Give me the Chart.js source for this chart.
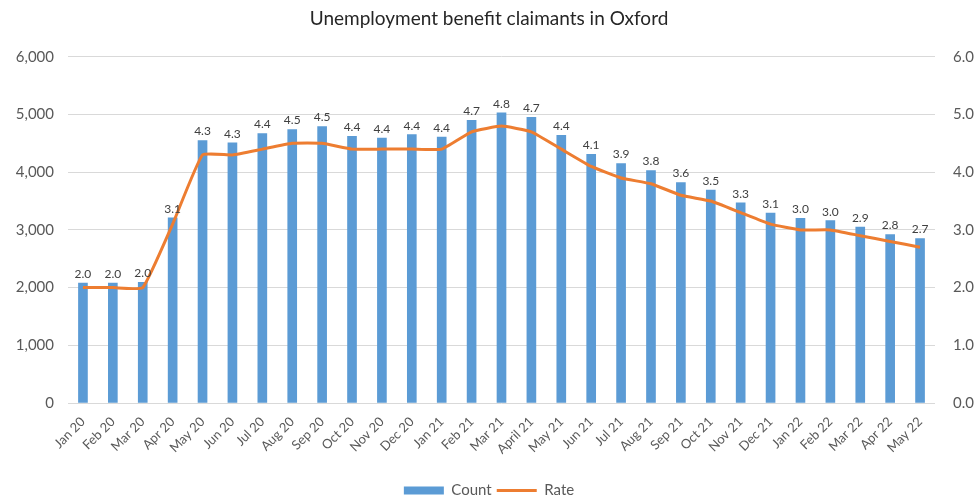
<!DOCTYPE html>
<html>
<head>
<meta charset="utf-8">
<script src="https://cdn.jsdelivr.net/npm/chart.js@4"></script>
<style>
  html, body { margin: 0; padding: 0; background: #fff; }
  #wrap { width: 978px; height: 502px; }
</style>
</head>
<body>
<div id="wrap"><canvas id="chart" width="978" height="502"></canvas></div>
<script>
const months = [
  "Jan 20", "Feb 20", "Mar 20", "Apr 20", "May 20", "Jun 20", "Jul 20", "Aug 20",
  "Sep 20", "Oct 20", "Nov 20", "Dec 20", "Jan 21", "Feb 21", "Mar 21", "April 21",
  "May 21", "Jun 21", "Jul 21", "Aug 21", "Sep 21", "Oct 21", "Nov 21", "Dec 21",
  "Jan 22", "Feb 22", "Mar 22", "Apr 22", "May 22"
];

const counts = [
  2080, 2080, 2090, 3210, 4550, 4510, 4670, 4740,
  4790, 4620, 4590, 4650, 4610, 4900, 5030, 4950,
  4640, 4310, 4150, 4030, 3820, 3690, 3470, 3290,
  3200, 3160, 3050, 2920, 2850
];

const rates = [
  2.0, 2.0, 2.0, 3.1, 4.3, 4.3, 4.4, 4.5,
  4.5, 4.4, 4.4, 4.4, 4.4, 4.7, 4.8, 4.7,
  4.4, 4.1, 3.9, 3.8, 3.6, 3.5, 3.3, 3.1,
  3.0, 3.0, 2.9, 2.8, 2.7
];

const FONT = "Lato, 'Liberation Sans', sans-serif";
const TEXT_COLOR = "#595959";

// rate labels sit just above each bar, like the Excel original
const rateLabels = {
  id: "rateLabels",
  afterDatasetsDraw(chart) {
    const meta = chart.getDatasetMeta(1);
    const ctx = chart.ctx;
    ctx.save();
    ctx.font = "12px " + FONT;
    ctx.fillStyle = "#404040";
    ctx.textAlign = "center";
    ctx.textBaseline = "bottom";
    meta.data.forEach((bar, i) => {
      ctx.fillText(rates[i].toFixed(1), bar.x, bar.y - 3);
    });
    ctx.restore();
  }
};

new Chart(document.getElementById("chart"), {
  data: {
    labels: months,
    datasets: [
      {
        type: "line",
        label: "Rate",
        data: rates,
        yAxisID: "y2",
        borderColor: "#ED7D31",
        backgroundColor: "#ED7D31",
        borderWidth: 3,
        pointRadius: 0,
        tension: 0.12,
        order: 0
      },
      {
        type: "bar",
        label: "Count",
        data: counts,
        yAxisID: "y",
        backgroundColor: "#5B9BD5",
        barThickness: 9,
        order: 1
      }
    ]
  },
  options: {
    responsive: false,
    animation: false,
    layout: { padding: { top: 0, right: 0, bottom: -6, left: 0 } },
    plugins: {
      title: {
        display: true,
        text: "Unemployment benefit claimants in Oxford",
        color: "#262626",
        font: { family: FONT, size: 19, weight: "normal" },
        padding: { top: 7, bottom: 27 }
      },
      legend: {
        position: "bottom",
        reverse: true,
        labels: {
          color: TEXT_COLOR,
          font: { family: FONT, size: 15 },
          usePointStyle: true,
          pointStyleWidth: 40,
          boxHeight: 8,
          padding: 5,
          generateLabels(chart) {
            const items = Chart.defaults.plugins.legend.labels.generateLabels(chart);
            items.forEach(item => {
              if (item.text === "Rate") {
                item.pointStyle = "line";
                item.lineWidth = 3;
                item.strokeStyle = "#ED7D31";
              } else {
                item.pointStyle = "rect";
                item.lineWidth = 0;
              }
            });
            return items;
          }
        }
      },
      tooltip: { enabled: false }
    },
    scales: {
      x: {
        grid: { display: false },
        border: { display: false },
        afterFit(scale) { scale.height = 75; },
        ticks: {
          color: TEXT_COLOR,
          font: { family: FONT, size: 13 },
          maxRotation: 45,
          minRotation: 45,
          autoSkip: false
        }
      },
      y: {
        position: "left",
        min: 0,
        max: 6000,
        grid: { color: "#d9d9d9", drawTicks: false },
        border: { display: false },
        afterFit(scale) { scale.width = 68; },
        ticks: {
          stepSize: 1000,
          padding: 14,
          color: TEXT_COLOR,
          font: { family: FONT, size: 15 },
          callback: v => v.toLocaleString("en-US")
        }
      },
      y2: {
        position: "right",
        min: 0,
        max: 6,
        grid: { display: false },
        border: { display: false },
        afterFit(scale) { scale.width = 43; },
        ticks: {
          stepSize: 1,
          padding: 10,
          color: TEXT_COLOR,
          font: { family: FONT, size: 15 },
          callback: v => v.toFixed(1)
        }
      }
    }
  },
  plugins: [rateLabels]
});
</script>
</body>
</html>
